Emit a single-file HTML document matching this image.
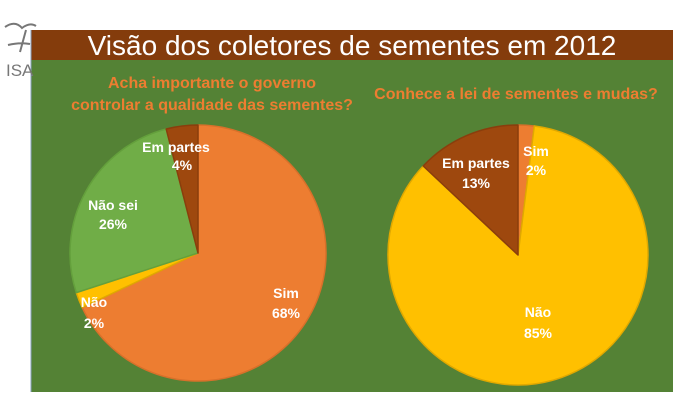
<!DOCTYPE html>
<html><head><meta charset="utf-8"><style>
body{margin:0;width:700px;height:411px;background:#fff;overflow:hidden;font-family:"Liberation Sans",sans-serif}
</style></head><body>
<svg width="700" height="411" viewBox="0 0 700 411" xmlns="http://www.w3.org/2000/svg" font-family="Liberation Sans, sans-serif">
<rect x="31" y="30" width="642" height="30" fill="#843C0C"/>
<rect x="31" y="60" width="642" height="332" fill="#548235"/>
<line x1="31" y1="30" x2="31" y2="392" stroke="#8aa0c0" stroke-width="1"/>
<text x="352" y="55" font-size="28" fill="#fff" text-anchor="middle">Visão dos coletores de sementes em 2012</text>
<text x="212" y="88" font-size="16" font-weight="bold" fill="#ED7D31" text-anchor="middle">Acha importante o governo</text>
<text x="212" y="110" font-size="16" font-weight="bold" fill="#ED7D31" text-anchor="middle">controlar a qualidade das sementes?</text>
<text x="516" y="99" font-size="16" font-weight="bold" fill="#ED7D31" text-anchor="middle">Conhece a lei de sementes e mudas?</text>
<!-- logo -->
<text x="6" y="76" font-size="17" fill="#777">ISA</text>
<path d="M5 27 Q15 20 22 28 Q30 22 36 26 M8 45 Q20 42 30 44 M26 30 L20 52" stroke="#777" stroke-width="2" fill="none"/>
<!-- left pie -->
<g stroke-width="1.5" stroke-linejoin="round">
<path d="M198 253 L198 125 A128 128 0 1 1 82.2 307.5 Z" fill="#ED7D31" stroke="#d8702a"/>
<path d="M198 253 L82.2 307.5 A128 128 0 0 1 76.3 292.6 Z" fill="#FFC000" stroke="#e0a800"/>
<path d="M198 253 L76.3 292.6 A128 128 0 0 1 166.2 129 Z" fill="#70AD47" stroke="#64a03c"/>
<path d="M198 253 L166.2 129 A128 128 0 0 1 198 125 Z" fill="#9E480E" stroke="#8a3e0c"/>
<path d="M518 255 L518 125 A130 130 0 0 1 534.3 126 Z" fill="#ED7D31" stroke="#d8702a"/>
<path d="M518 255 L534.3 126 A130 130 0 1 1 423.2 166 Z" fill="#FFC000" stroke="#e0a800"/>
<path d="M518 255 L423.2 166 A130 130 0 0 1 518 125 Z" fill="#9E480E" stroke="#8a3e0c"/>
</g>
<g font-size="14" font-weight="bold" fill="#fff" text-anchor="middle">
<text x="176" y="152">Em partes</text><text x="182" y="170">4%</text>
<text x="113" y="210">Não sei</text><text x="113" y="229">26%</text>
<text x="94" y="307">Não</text><text x="94" y="328">2%</text>
<text x="286" y="298">Sim</text><text x="286" y="318">68%</text>
<text x="476" y="168">Em partes</text><text x="476" y="188">13%</text>
<text x="536" y="156">Sim</text><text x="536" y="175">2%</text>
<text x="538" y="317">Não</text><text x="538" y="338">85%</text>
</g>
</svg>
</body></html>
